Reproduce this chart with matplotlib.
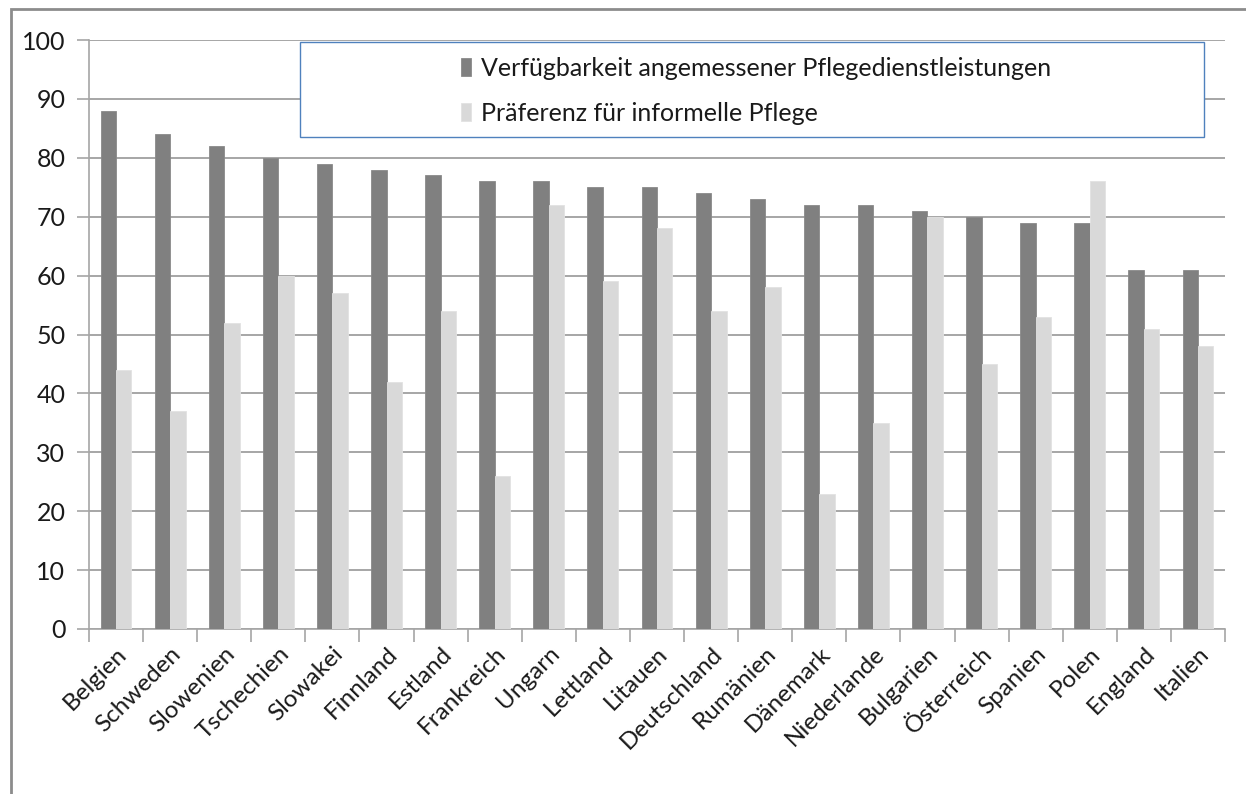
import matplotlib
matplotlib.use("Agg")
import matplotlib.pyplot as plt
import numpy as np
from matplotlib.patches import Rectangle

countries = ["Belgien", "Schweden", "Slowenien", "Tschechien", "Slowakei", "Finnland",
             "Estland", "Frankreich", "Ungarn", "Lettland", "Litauen", "Deutschland",
             "Rumänien", "Dänemark", "Niederlande", "Bulgarien", "Österreich", "Spanien",
             "Polen", "England", "Italien"]
availability = [88, 84, 82, 80, 79, 78, 77, 76, 76, 75, 75, 74, 73, 72, 72, 71, 70, 69, 69, 61, 61]
informal_pref = [44, 37, 52, 60, 57, 42, 54, 26, 72, 59, 68, 54, 58, 23, 35, 70, 45, 53, 76, 51, 48]
series_names = ["Verfügbarkeit angemessener Pflegedienstleistungen", "Präferenz für informelle Pflege"]
yticks = [0, 10, 20, 30, 40, 50, 60, 70, 80, 90, 100]

plt.rcParams['font.family'] = ['Lato', 'DejaVu Sans']

W, H = 1246, 794
fig = plt.figure(figsize=(W / 100, H / 100), dpi=100)
ax = fig.add_axes([89 / W, (H - 629) / H, (1225 - 89) / W, (629 - 40) / H])

x = np.arange(len(countries))
bw = 0.285
b1 = ax.bar(x - bw / 2, availability, width=bw, color="#808080", edgecolor="#8a8a8a", linewidth=0.6, zorder=3,
            label=series_names[0])
b2 = ax.bar(x + bw / 2, informal_pref, width=bw, color="#D9D9D9", edgecolor="#e2e2e2", linewidth=0.6, zorder=3,
            label=series_names[1])

ax.set_xlim(-0.5, len(countries) - 0.5)
ax.set_ylim(0, 100)
ax.set_yticks(yticks)
ax.set_yticklabels([str(v) for v in yticks], fontsize=18)
ax.yaxis.grid(True, color="#A6A6A6", linewidth=1.4, zorder=0)
ax.set_axisbelow(True)
ax.tick_params(axis='y', length=9, width=1.2, color="#A6A6A6", pad=8, labelcolor="#1a1a1a")

ax.set_xticks(x)
ax.set_xticklabels(countries, rotation=45, ha="right", rotation_mode="anchor", fontsize=17.5, color="#1a1a1a")
ax.tick_params(axis='x', length=0, pad=10)
ax.set_xticks(np.arange(len(countries) + 1) - 0.5, minor=True)
ax.tick_params(axis='x', which='minor', length=9, width=1.2, color="#A6A6A6")

for s in ["top", "right"]:
    ax.spines[s].set_visible(False)
for s in ["left", "bottom"]:
    ax.spines[s].set_color("#A6A6A6")
    ax.spines[s].set_linewidth(1.2)

# legend box
box = Rectangle(((300 - 89) / 1136, (629 - 137) / 589), (1204 - 300) / 1136, (137 - 42) / 589,
                transform=ax.transAxes, facecolor="white", edgecolor="#4F81BD", linewidth=1.0, zorder=5)
ax.add_patch(box)
leg = ax.legend(handles=[b1, b2], frameon=False, loc="upper left",
                bbox_to_anchor=((461 - 89) / 1136, (629 - 57) / 589),
                fontsize=18, handlelength=0.4, handleheight=0.75, handletextpad=0.4,
                labelspacing=0.88, borderpad=0, borderaxespad=0)
leg.set_zorder(6)
for t in leg.get_texts():
    t.set_color("#1a1a1a")

# outer frame
fig.patches.append(Rectangle((11 / W, -0.05), 1.2, (H - 9) / H + 0.05, transform=fig.transFigure,
                             facecolor="none", edgecolor="#8C8C8C", linewidth=2.0))

fig.savefig("out.png", dpi=100)
